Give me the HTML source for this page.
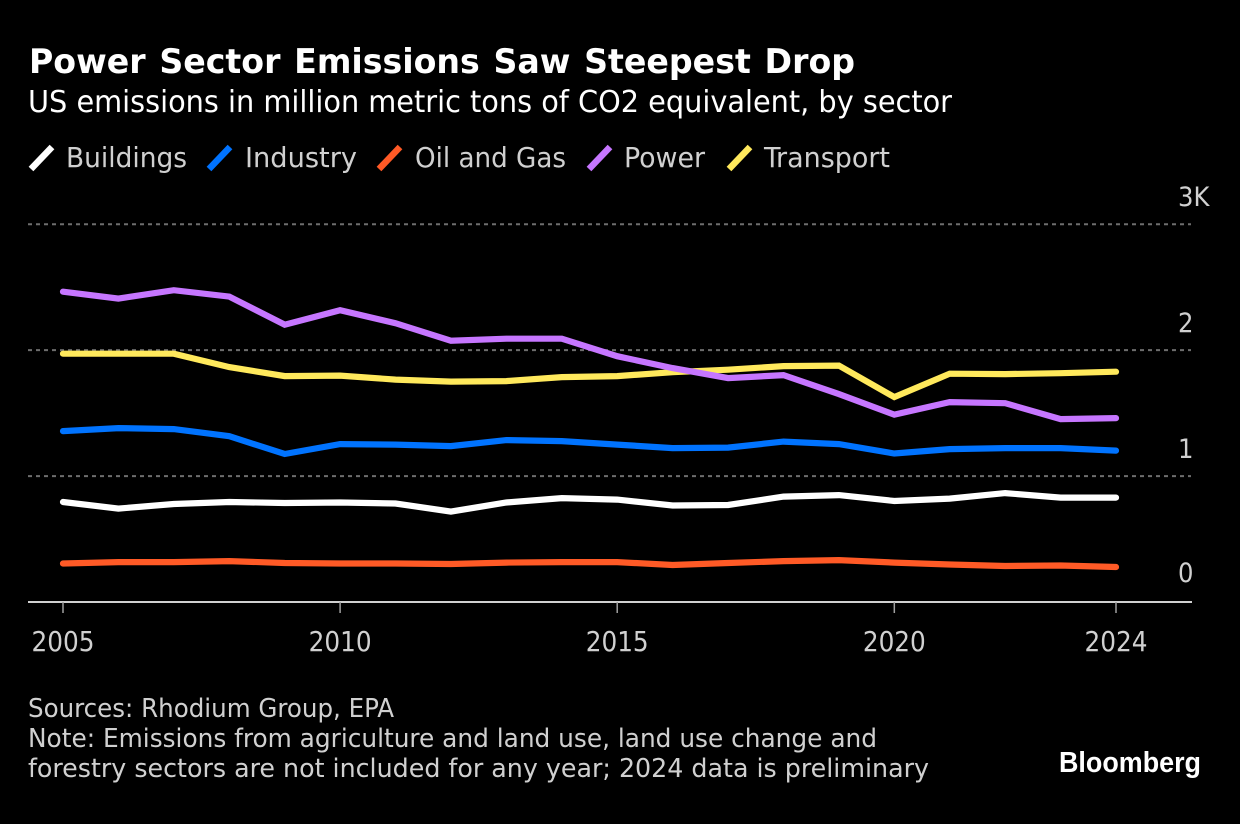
<!DOCTYPE html>
<html lang="en">
<head>
<meta charset="utf-8">
<title>Power Sector Emissions Saw Steepest Drop</title>
<style>
html,body{margin:0;padding:0;background:#000;width:1240px;height:824px;overflow:hidden}
svg{display:block;position:absolute;left:0;top:0}
text{font-family:"DejaVu Sans",sans-serif;font-stretch:condensed}
</style>
</head>
<body>
<svg id="chart" width="1240" height="824" viewBox="0 0 1240 824" xmlns="http://www.w3.org/2000/svg">
  <rect width="1240" height="824" fill="#000"/>
  <text x="29" y="73" font-size="34" font-weight="700" fill="#fff" style="word-spacing:2px" textLength="826" lengthAdjust="spacingAndGlyphs">Power Sector Emissions Saw Steepest Drop</text>
  <text x="28" y="112" font-size="30" fill="#fff" textLength="924" lengthAdjust="spacingAndGlyphs">US emissions in million metric tons of CO2 equivalent, by sector</text>
  <g id="legend"></g>
  <g id="grid"></g>
  <g id="yaxis"></g>
  <g id="xaxis"></g>
  <g id="series"></g>
  <g font-size="26" fill="#d0d0d0">
    <text x="28" y="717" textLength="366" lengthAdjust="spacingAndGlyphs">Sources: Rhodium Group, EPA</text>
    <text x="28" y="747" textLength="849" lengthAdjust="spacingAndGlyphs">Note: Emissions from agriculture and land use, land use change and</text>
    <text x="28" y="777" textLength="901" lengthAdjust="spacingAndGlyphs">forestry sectors are not included for any year; 2024 data is preliminary</text>
  </g>
  <text x="1059" y="772" font-size="29" font-weight="700" fill="#fff" style="font-family:'Liberation Sans',sans-serif;font-stretch:normal" textLength="142" lengthAdjust="spacingAndGlyphs">Bloomberg</text>
</svg>
<script>
const years = [2005,2006,2007,2008,2009,2010,2011,2012,2013,2014,2015,2016,2017,2018,2019,2020,2021,2022,2023,2024];
const buildings = [794,742,778,794,786,790,782,718,790,825,813,766,770,837,849,802,821,865,829,829];
const industry = [1357,1381,1373,1317,1175,1254,1250,1238,1286,1278,1250,1222,1226,1274,1254,1179,1214,1222,1222,1202];
const oilAndGas = [306,317,317,325,310,306,306,302,313,317,317,294,310,325,333,313,298,286,290,278];
const power = [2464,2409,2476,2425,2202,2317,2214,2075,2091,2091,1952,1857,1778,1802,1651,1488,1587,1579,1452,1460];
const transport = [1972,1972,1972,1865,1794,1798,1766,1750,1754,1786,1794,1825,1845,1873,1877,1627,1813,1810,1817,1829];
const seriesNames = ["Buildings","Industry","Oil and Gas","Power","Transport"];
const yTicks = [0,1000,2000,3000];
const yTickLabels = ["0","1","2","3K"];
const xTicks = [2005,2010,2015,2020,2024];

const NS = "http://www.w3.org/2000/svg";
const seriesValues = [buildings,industry,oilAndGas,power,transport];
const seriesColors = ["#ffffff","#0073ff","#ff5a26","#c676ff","#ffe95c"];
const legendSwatchX = [29,207,377,587,727];
const legendTextX = [66,245,415,624,764];
const legendTextW = [121,112,151,81,126];

function xScale(y){ return 63 + (y - 2005) * (1116 - 63) / (2024 - 2005); }
function yScale(v){ return 602 - v * 0.12593; }
function slug(s){ return s.toLowerCase().replace(/\s+/g,'-'); }

function make(tag, attrs, parent){
  const el = document.createElementNS(NS, tag);
  for (const k in attrs) el.setAttribute(k, attrs[k]);
  parent.appendChild(el);
  return el;
}

const gridG = document.getElementById('grid');
const yG = document.getElementById('yaxis');
const xG = document.getElementById('xaxis');
const seriesG = document.getElementById('series');
const legendG = document.getElementById('legend');

yTicks.forEach(function(t,i){
  const y = yScale(t);
  if (t !== 0) {
    const g = make('line',{x1:28,x2:1191,y1:y,y2:y,stroke:'#6e6e6e','stroke-width':2,'stroke-dasharray':'4 4'},gridG);
    
    
  }
  const lab = make('text',{x:1178,y:y-(t === 0 ? 20 : 18),'font-size':27,fill:'#d0d0d0'},yG);
  
  
  lab.textContent = yTickLabels[i];
});

const axisLine = make('line',{x1:28,x2:1192,y1:602,y2:602,stroke:'#d0d0d0','stroke-width':2},xG);



xTicks.forEach(function(t){
  const x = xScale(t);
  const tick = make('line',{x1:x,x2:x,y1:602,y2:613,stroke:'#a0a0a0','stroke-width':1.5},xG);
  
  
  const lab = make('text',{x:x,y:651,'text-anchor':'middle','font-size':27.5,fill:'#d0d0d0'},xG);
  
  
  lab.textContent = t;
});

/* draw order: later series sit on top */
[4,3,1,0,2].forEach(function(i){
  const pts = seriesValues[i].map(function(v,j){ return xScale(years[j]).toFixed(1) + ',' + yScale(v).toFixed(1); }).join(' ');
  const line = make('polyline',{points:pts,fill:'none',stroke:seriesColors[i],'stroke-width':6.2,'stroke-linejoin':'miter','stroke-linecap':'round'},seriesG);
  
  
});

seriesNames.forEach(function(n,i){
  const sw = make('line',{x1:legendSwatchX[i]+2,y1:169,x2:legendSwatchX[i]+23,y2:147,stroke:seriesColors[i],'stroke-width':6.5},legendG);
  
  
  const lab = make('text',{x:legendTextX[i],y:167,'font-size':28,fill:'#d0d0d0',textLength:legendTextW[i],lengthAdjust:'spacingAndGlyphs'},legendG);
  
  
  lab.textContent = n;
});
</script>
</body>
</html>
